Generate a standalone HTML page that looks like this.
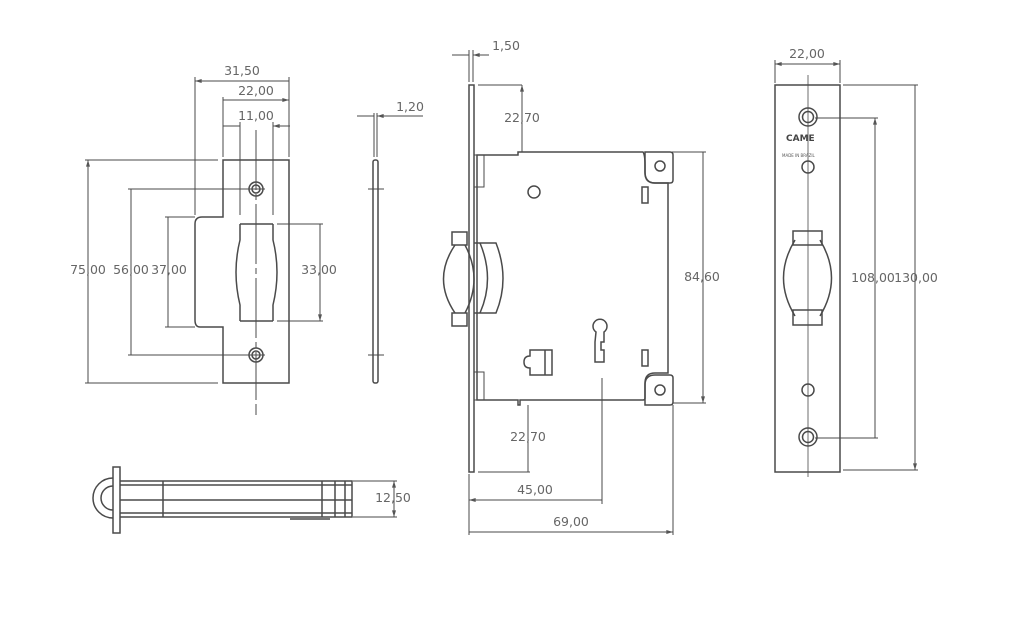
<!DOCTYPE html>
<html><head><meta charset="utf-8"><style>
html,body{margin:0;padding:0;background:#fff;width:1024px;height:631px;overflow:hidden}
svg{display:block}
text{font-family:"DejaVu Sans","Liberation Sans",sans-serif;font-size:12.5px;fill:#666}
</style></head><body>
<svg width="1024" height="631" viewBox="0 0 1024 631" xmlns="http://www.w3.org/2000/svg">
<defs>
<marker id="a" viewBox="0 0 10 6" refX="10" refY="3" markerWidth="7" markerHeight="4" orient="auto-start-reverse"><path d="M0,0L10,3L0,6z" fill="#555"/></marker>
</defs>
<g stroke="#4a4a4a" stroke-width="1.5" fill="none">
<!-- LEFT STRIKER -->
<path d="M223,160H289V383H223V327H200Q195,327 195,320V224Q195,217 202,217H223Z"/>
<path d="M240,224H273M240,321H273M240,224V240Q232,272 240,305V321M273,224V240Q281,272 273,305V321"/>
<circle cx="256" cy="189" r="7"/><circle cx="256" cy="189" r="4"/>
<circle cx="256" cy="355" r="7"/><circle cx="256" cy="355" r="4"/>
<path d="M256,130V400M256,404V415" stroke-dasharray="60 4 6 4" stroke-width="1"/>
<path d="M248,189H265M248,355H265" stroke-width="1"/>
<path d="M195,77V215M223,97V157M289,77V157M240,122V215M273,122V215" stroke-width="1"/>
<path d="M85,160H218M85,383H218M128,189H252M128,355H252M165,217H195M165,327H195M277,224H323M277,321H323" stroke-width="1"/>
<path d="M195,81H289M223,100H289" stroke-width="1" marker-start="url(#a)" marker-end="url(#a)"/>
<path d="M223,126H240M290,126H273" stroke-width="1" marker-end="url(#a)"/>
<path d="M88,160V383M131,189V355M168,217V327M320,224V321" stroke-width="1" marker-start="url(#a)" marker-end="url(#a)"/>
<!-- side plate -->
<rect x="373" y="160" width="5" height="223" rx="2"/>
<path d="M374,113V157M377,113V157" stroke-width="1"/>
<path d="M368,189H384M368,355H384" stroke-width="1"/>
<path d="M357,116H374M423,116H377" stroke-width="1" marker-end="url(#a)"/>
<!-- bottom view -->
<path d="M113,467H120V533H113Z"/>
<path d="M113,478A20,20 0 0 0 113,518M113,486A12,12 0 0 0 113,510"/>
<path d="M120,481H352V517H120M120,485H352M120,500H352M120,513H352M163,481V517M322,481V517M335,481V517M345,481V517M352,481V517M290,519H330"/>
<path d="M353,481H397M353,517H397" stroke-width="1"/>
<path d="M394,481V517" stroke-width="1" marker-start="url(#a)" marker-end="url(#a)"/>
<!-- LOCK -->
<rect x="469" y="85" width="5" height="387"/>
<path d="M477,155H518V152H643Q645,155 645,165V172Q645,183 655,183H668V373H655Q645,373 645,383V398Q645,400 643,400H520V405H518V400H477Z"/>
<path d="M645,152H670Q673,152 673,155V180Q673,183 670,183H655Q645,183 645,173Z"/>
<path d="M645,405H670Q673,405 673,402V378Q673,375 670,375H655Q645,375 645,385Z"/>
<circle cx="660" cy="166" r="5"/><circle cx="660" cy="390" r="5"/>
<path d="M474,155H484V187H474M474,372H484V400H474" stroke-width="1"/>
<circle cx="534" cy="192" r="6"/>
<rect x="642" y="187" width="6" height="16"/><rect x="642" y="350" width="6" height="16"/>
<path d="M596,332A7,7 0 1 1 604,332L604,342H601V350H604V362H595V342Z"/>
<path d="M530,350H552V375H530V368Q524,368 524,362Q524,356 530,356Z M545,350V375"/>
<path d="M452,232H467V245H452ZM452,313H467V326H452Z"/>
<path d="M455,245Q432,279 455,313M465,245Q483,279 465,313"/>
<path d="M474,243H496Q510,279 496,313H474M480,243Q495,279 480,313"/>
<path d="M602,378V504M469,474V535M673,405V535" stroke-width="1"/>
<path d="M478,85H522M478,472H530M672,152H706M673,403H706M469,50V82M473,50V82" stroke-width="1"/>
<path d="M452,55H469M489,55H473" stroke-width="1" marker-end="url(#a)"/>
<path d="M522,85V152M528,405V472M703,152V403" stroke-width="1" marker-start="url(#a)" marker-end="url(#a)"/>
<path d="M469,500H602M469,532H673" stroke-width="1" marker-start="url(#a)" marker-end="url(#a)"/>
<!-- RIGHT FACEPLATE -->
<rect x="775" y="85" width="65" height="387"/>
<path d="M808,75V477" stroke-width="0.8"/>
<circle cx="808" cy="117" r="9"/><circle cx="808" cy="117" r="5.5"/>
<circle cx="808" cy="437" r="9"/><circle cx="808" cy="437" r="5.5"/>
<circle cx="808" cy="167" r="6"/><circle cx="808" cy="390" r="6"/>
<path d="M793,231H822V245H793ZM793,310H822V325H793Z"/>
<path d="M795,240Q772,278 795,316M820,240Q843,278 820,316"/>
<path d="M775,60V83M840,60V83" stroke-width="1"/>
<path d="M815,118H878M815,438H878M843,85H918M843,470H918" stroke-width="1"/>
<path d="M775,64H840" stroke-width="1" marker-start="url(#a)" marker-end="url(#a)"/>
<path d="M875,118V438M915,85V470" stroke-width="1" marker-start="url(#a)" marker-end="url(#a)"/>
</g>
<text x="786" y="141" style="font-size:9px;font-weight:bold;fill:#444">CAME</text>
<text x="782" y="157" style="font-size:4px;fill:#555">MADE IN BRAZIL</text>
<g text-anchor="middle">
<text x="242" y="75">31,50</text>
<text x="256" y="95">22,00</text>
<text x="256" y="120">11,00</text>
<text x="88" y="274">75,00</text>
<text x="131" y="274">56,00</text>
<text x="169" y="274">37,00</text>
<text x="319" y="274">33,00</text>
<text x="410" y="111">1,20</text>
<text x="393" y="502">12,50</text>
<text x="506" y="50">1,50</text>
<text x="522" y="122">22,70</text>
<text x="528" y="441">22,70</text>
<text x="702" y="281">84,60</text>
<text x="535" y="494">45,00</text>
<text x="571" y="526">69,00</text>
<text x="807" y="58">22,00</text>
<text x="873" y="282">108,00</text>
<text x="916" y="282">130,00</text>
</g>
</svg>
</body></html>
